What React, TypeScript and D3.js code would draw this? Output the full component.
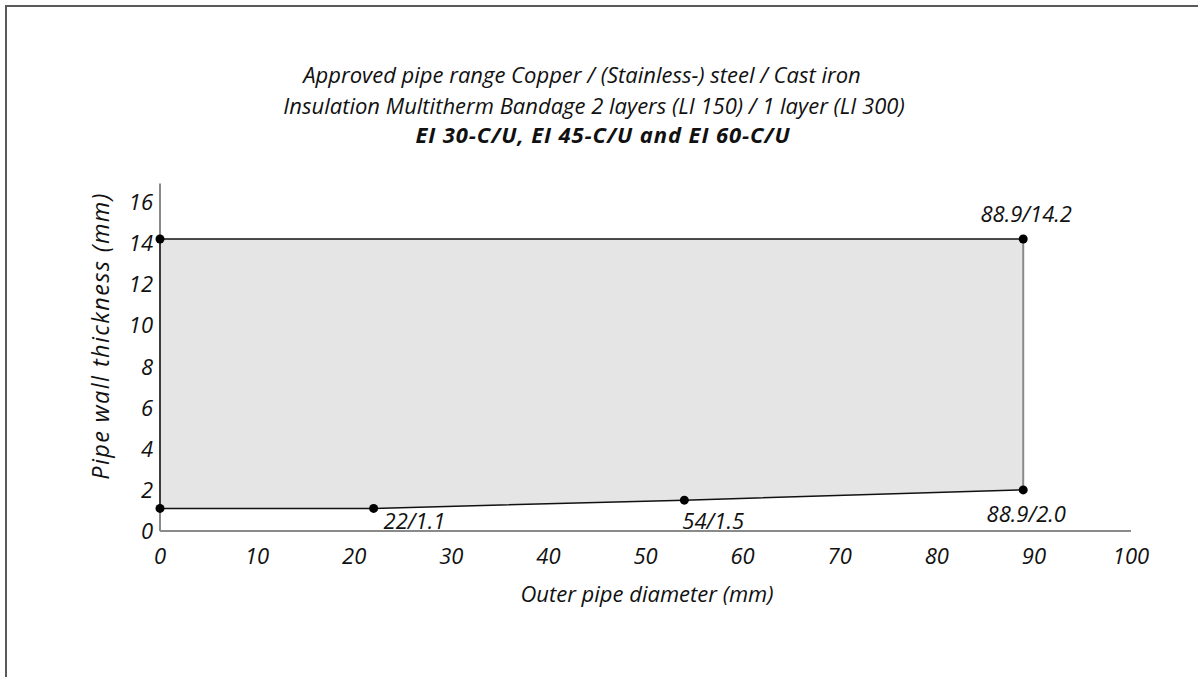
import React from "react";
import * as d3 from "d3";

const W = 1198;
const H = 677;

const titleLines = [
  "Approved pipe range Copper / (Stainless-) steel / Cast iron",
  "Insulation Multitherm Bandage 2 layers (LI 150) / 1 layer (LI 300)",
  "EI 30-C/U, EI 45-C/U and EI 60-C/U",
];
const xTicks = [0, 10, 20, 30, 40, 50, 60, 70, 80, 90, 100];
const yTicks = [0, 2, 4, 6, 8, 10, 12, 14, 16];
// polygon vertices: outer diameter (mm), wall thickness (mm)
const regionX = [0, 22, 54, 88.9, 88.9, 0];
const regionY = [1.1, 1.1, 1.5, 2.0, 14.2, 14.2];
const pointX = [0, 22, 54, 88.9, 88.9, 0];
const pointY = [1.1, 1.1, 1.5, 2.0, 14.2, 14.2];
const pointLabels = ["", "22/1.1", "54/1.5", "88.9/2.0", "88.9/14.2", ""];

const FONT = "'Open Sans', 'Noto Sans', sans-serif";
const FS = 22;

export default function App() {
  const x = d3.scaleLinear().domain([0, 100]).range([160, 1131]);
  const y = d3.scaleLinear().domain([0, 16]).range([531, 202]);
  const yTop = y(16.9);

  const pts: [number, number][] = regionX.map((v, i) => [x(v), y(regionY[i])]);
  const area = d3.line()(pts.concat([pts[0]])) || "";
  const bottomEdge = d3.line()(pts.slice(0, 4)) || "";
  const topEdge = d3.line()([pts[4], pts[5]]) || "";
  const rightEdge = d3.line()([pts[3], pts[4]]) || "";
  const leftEdge = d3.line()([pts[5], pts[0]]) || "";

  const labelPos: Record<string, { dx: number; dy: number; anchor: string }> = {
    "22/1.1": { dx: 10, dy: 21, anchor: "start" },
    "54/1.5": { dx: -2, dy: 29, anchor: "start" },
    "88.9/2.0": { dx: 3, dy: 32, anchor: "middle" },
    "88.9/14.2": { dx: 3, dy: -17, anchor: "middle" },
  };

  return (
    <svg
      width={W}
      height={H}
      style={{ position: "absolute", left: 0, top: 0, background: "#fff" }}
    >
      <rect x={6} y={6} width={1400} height={900} fill="#fff" stroke="#5a5a5a" strokeWidth={2} />

      {/* titles */}
      <g fontFamily={FONT} fontStyle="italic" fill="#111" fontSize={FS}>
        <text x={582} y={83} textAnchor="middle">{titleLines[0]}</text>
        <text x={594} y={114} textAnchor="middle">{titleLines[1]}</text>
        <text x={603} y={143} textAnchor="middle" fontWeight="bold" letterSpacing={0.9}>
          {titleLines[2]}
        </text>
      </g>

      {/* shaded region */}
      <path d={area} fill="#e5e5e5" stroke="none" />

      {/* axes */}
      <line x1={x(0)} x2={x(0)} y1={y(0)} y2={yTop} stroke="#8a8a8a" strokeWidth={2} />
      <line x1={x(0)} x2={x(100)} y1={y(0)} y2={y(0)} stroke="#8a8a8a" strokeWidth={2} />

      {/* region edges */}
      <path d={rightEdge} fill="none" stroke="#8a8a8a" strokeWidth={2} />
      <path d={leftEdge} fill="none" stroke="#222" strokeWidth={1.5} />
      <path d={bottomEdge} fill="none" stroke="#111" strokeWidth={1.5} />
      <path d={topEdge} fill="none" stroke="#111" strokeWidth={1.5} />

      {/* points */}
      {pointX.map((v, i) => (
        <circle key={i} cx={x(v)} cy={y(pointY[i])} r={4.5} fill="#000" />
      ))}

      {/* point labels */}
      <g fontFamily={FONT} fontStyle="italic" fill="#111" fontSize={FS}>
        {pointX.map((v, i) => {
          const lab = pointLabels[i];
          if (!lab) return null;
          const p = labelPos[lab];
          return (
            <text key={i} x={x(v) + p.dx} y={y(pointY[i]) + p.dy} textAnchor={p.anchor}>
              {lab}
            </text>
          );
        })}
      </g>

      {/* tick labels */}
      <g fontFamily={FONT} fontStyle="italic" fill="#111" fontSize={FS}>
        {xTicks.map((t) => (
          <text key={t} x={x(t)} y={564} textAnchor="middle">{t}</text>
        ))}
        {yTicks.map((t) => (
          <text key={t} x={153} y={y(t) + 8} textAnchor="end">{t}</text>
        ))}
      </g>

      {/* axis titles */}
      <g fontFamily={FONT} fontStyle="italic" fill="#111">
        <text x={647} y={602} textAnchor="middle" fontSize={FS}>
          Outer pipe diameter (mm)
        </text>
        <text
          transform={`translate(109,336) rotate(-90)`}
          textAnchor="middle"
          fontSize={23.5}
          letterSpacing={1.4}
        >
          Pipe wall thickness (mm)
        </text>
      </g>
    </svg>
  );
}
